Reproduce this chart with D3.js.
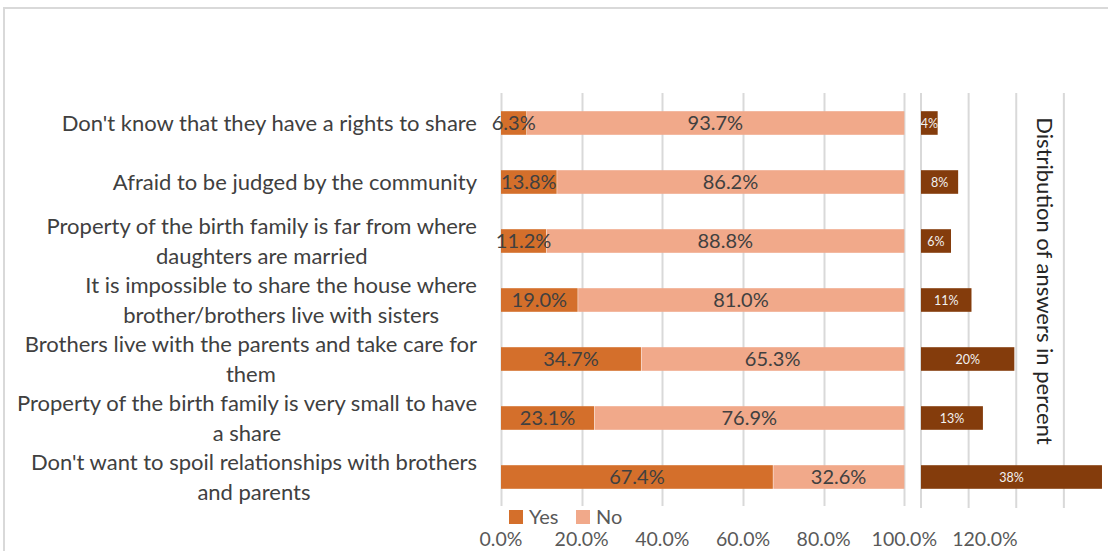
<!DOCTYPE html>
<html>
<head>
<meta charset="utf-8">
<script src="https://cdn.jsdelivr.net/npm/d3@7"></script>
<style>
  body { margin: 0; background: #fff; }
  svg { display: block; font-family: Lato, "Liberation Sans", sans-serif; }
</style>
</head>
<body>
<div class="chart"></div>
<script>
var width = 1108;
var height = 551;

// reasons, top to bottom
var categories = [
    "Don't know that they have a rights to share",
    "Afraid to be judged by the community",
    "Property of the birth family is far from where|daughters are married",
    "It is impossible to share the house where|brother/brothers live with sisters",
    "Brothers live with the parents and take care for|them",
    "Property of the birth family is very small to have|a share",
    "Don't want to spoil relationships with brothers|and parents"
];
var yesValues = [6.3, 13.8, 11.2, 19.0, 34.7, 23.1, 67.4];
var noValues  = [93.7, 86.2, 88.8, 81.0, 65.3, 76.9, 32.6];
var distValues = [3.5, 7.8, 6.3, 10.6, 19.6, 13.0, 38.0];
var xTicks = [0, 20, 40, 60, 80, 100, 120];
var seriesNames = ["Yes", "No"];

var yesColor = "#D46F2B";
var noColor = "#F1A98A";
var distColor = "#843C0C";
var gridColor = "#D9D9D9";

var svg = d3.select(".chart")
    .append("svg")
    .attr("width", width)
    .attr("height", height);

// outer chart border
svg.append("path")
    .attr("d", "M4,560 L4,8 L1120,8")
    .attr("fill", "none")
    .attr("stroke", gridColor)
    .attr("stroke-width", 2);

var x = d3.scaleLinear().domain([0, 120]).range([501, 985]);
var x2 = d3.scaleLinear().domain([0, 40]).range([921, 1111.5]);
var y = d3.scaleBand()
    .domain(categories)
    .range([93.5, 506.5])
    .paddingInner(0.6)
    .paddingOuter(0.3);

// gridlines main
svg.selectAll(".grid")
    .data(xTicks.filter(function(d){ return d <= 100; }))
    .enter()
    .append("line")
    .attr("class", "grid")
    .attr("x1", function(d){ return Math.round(x(d)) + 0.5; })
    .attr("x2", function(d){ return Math.round(x(d)) + 0.5; })
    .attr("y1", 93)
    .attr("y2", 506)
    .attr("stroke", gridColor)
    .attr("stroke-width", 2);

// gridlines right panel
svg.selectAll(".grid2")
    .data([0, 10, 20, 30])
    .enter()
    .append("line")
    .attr("class", "grid2")
    .attr("x1", function(d){ return x2(d); })
    .attr("x2", function(d){ return x2(d); })
    .attr("y1", 93)
    .attr("y2", 508)
    .attr("stroke", gridColor)
    .attr("stroke-width", 2);

var rows = categories.map(function(c, i){
    return {cat: c, yes: yesValues[i], no: noValues[i], dist: distValues[i]};
});

// yes / no stacked bars
svg.selectAll(".yes")
    .data(rows)
    .enter()
    .append("rect")
    .attr("class", "yes")
    .attr("x", x(0))
    .attr("y", function(d){ return y(d.cat); })
    .attr("width", function(d){ return x(d.yes) - x(0); })
    .attr("height", y.bandwidth())
    .attr("fill", yesColor);

svg.selectAll(".no")
    .data(rows)
    .enter()
    .append("rect")
    .attr("class", "no")
    .attr("x", function(d){ return x(d.yes) + 0.5; })
    .attr("y", function(d){ return y(d.cat); })
    .attr("width", function(d){ return x(d.yes + d.no) - x(d.yes) - 0.5; })
    .attr("height", y.bandwidth())
    .attr("fill", noColor);

// value labels
svg.selectAll(".yes-label")
    .data(rows)
    .enter()
    .append("text")
    .attr("class", "yes-label")
    .attr("x", function(d){ return (x(0) + x(d.yes)) / 2; })
    .attr("y", function(d){ return y(d.cat) + y.bandwidth() / 2; })
    .attr("dy", "0.36em")
    .attr("text-anchor", "middle")
    .attr("font-size", "20px")
    .attr("fill", "#404040")
    .text(function(d){ return d.yes.toFixed(1) + "%"; });

svg.selectAll(".no-label")
    .data(rows)
    .enter()
    .append("text")
    .attr("class", "no-label")
    .attr("x", function(d){ return (x(d.yes) + x(d.yes + d.no)) / 2; })
    .attr("y", function(d){ return y(d.cat) + y.bandwidth() / 2; })
    .attr("dy", "0.36em")
    .attr("text-anchor", "middle")
    .attr("font-size", "20px")
    .attr("fill", "#404040")
    .text(function(d){ return d.no.toFixed(1) + "%"; });

// distribution bars
svg.selectAll(".dist")
    .data(rows)
    .enter()
    .append("rect")
    .attr("class", "dist")
    .attr("x", x2(0))
    .attr("y", function(d){ return y(d.cat); })
    .attr("width", function(d){ return x2(d.dist) - x2(0); })
    .attr("height", y.bandwidth())
    .attr("fill", distColor);

svg.selectAll(".dist-label")
    .data(rows)
    .enter()
    .append("text")
    .attr("class", "dist-label")
    .attr("x", function(d){ return (x2(0) + x2(d.dist)) / 2; })
    .attr("y", function(d){ return y(d.cat) + y.bandwidth() / 2; })
    .attr("dy", "0.36em")
    .attr("text-anchor", "middle")
    .attr("font-size", "12.5px")
    .attr("fill", "#F2F2F2")
    .text(function(d){ return Math.round(d.dist) + "%"; });

// category labels
var catLabels = svg.selectAll(".cat")
    .data(rows)
    .enter()
    .append("text")
    .attr("class", "cat")
    .attr("font-size", "22px")
    .attr("fill", "#404040")
    .attr("text-anchor", "middle");

catLabels.each(function(d){
    var el = d3.select(this);
    var lines = d.cat.split("|");
    var cy = y(d.cat) + y.bandwidth() / 2;
    var tspans = lines.map(function(l, i){
        return el.append("tspan")
            .attr("y", cy + (i - (lines.length - 1) / 2) * 29.5)
            .attr("dy", "0.36em")
            .text(l);
    });
    var maxW = d3.max(tspans, function(t){ return t.node().getComputedTextLength(); });
    var cx = 477 - maxW / 2;
    tspans.forEach(function(t){ t.attr("x", cx); });
});

// x axis labels
svg.selectAll(".tick-label")
    .data(xTicks)
    .enter()
    .append("text")
    .attr("class", "tick-label")
    .attr("x", function(d){ return x(d); })
    .attr("y", 539)
    .attr("dy", "0.36em")
    .attr("text-anchor", "middle")
    .attr("font-size", "19.5px")
    .attr("fill", "#595959")
    .text(function(d){ return d.toFixed(1) + "%"; });

// right panel title
svg.append("text")
    .attr("transform", "translate(1045,281) rotate(90)")
    .attr("dy", "0.36em")
    .attr("text-anchor", "middle")
    .attr("font-size", "22px")
    .attr("fill", "#262626")
    .text("Distribution of answers in percent");

// legend
var legend = svg.selectAll(".legend")
    .data(seriesNames)
    .enter()
    .append("g")
    .attr("class", "legend")
    .attr("transform", function(d, i){ return "translate(" + (509 + i * 67) + ",517)"; });

legend.append("rect")
    .attr("x", 0)
    .attr("y", -7)
    .attr("width", 14)
    .attr("height", 14)
    .attr("fill", function(d, i){ return i == 0 ? yesColor : noColor; });

legend.append("text")
    .attr("x", 20)
    .attr("y", 0)
    .attr("dy", "0.36em")
    .attr("font-size", "20px")
    .attr("fill", "#595959")
    .text(function(d){ return d; });
</script>
</body>
</html>
